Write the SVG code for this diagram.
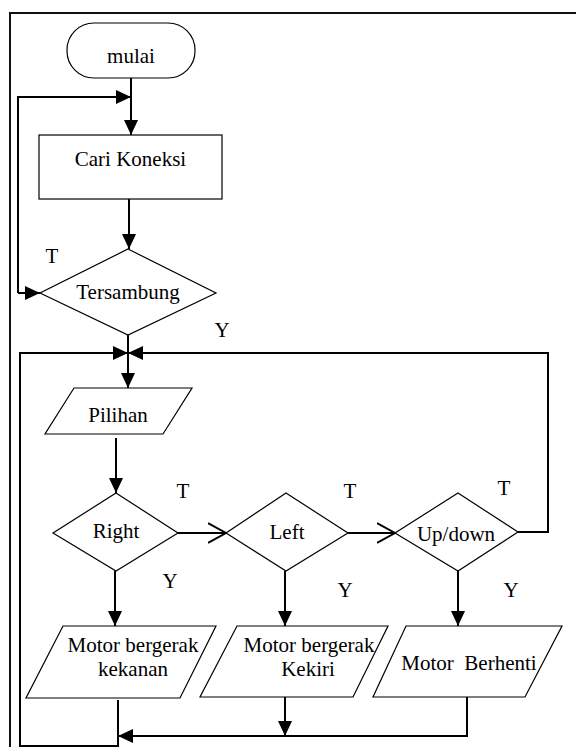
<svg xmlns="http://www.w3.org/2000/svg" width="576" height="747" viewBox="0 0 576 747">
<style>
.shape{fill:#fff;stroke:#000;stroke-width:1.2}
.conn{fill:none;stroke:#000;stroke-width:2}
.frame{fill:none;stroke:#111;stroke-width:2}
text{font-family:"Liberation Serif","Times New Roman",serif;font-size:21px;fill:#000;text-anchor:middle}
</style>
<defs>
<marker id="arr" markerUnits="userSpaceOnUse" markerWidth="15" markerHeight="14" refX="15" refY="7" orient="auto">
<path d="M0,0 L15,7 L0,14 z" fill="#000"/>
</marker>
<marker id="open" markerUnits="userSpaceOnUse" markerWidth="20" markerHeight="22" refX="18" refY="11" orient="auto">
<path d="M0,1 L18,11 L0,21" fill="none" stroke="#000" stroke-width="2"/>
</marker>
</defs>
<rect width="576" height="747" fill="#fff"/>
<g id="frame">
<path class="frame" d="M10,747 L10,13 L576,13"/>
</g>
<g id="connectors">
<line class="conn" x1="131" y1="78" x2="131" y2="135" marker-end="url(#arr)"/>
<path class="conn" d="M18,293 L18,97 L131,97" marker-end="url(#arr)"/>
<line class="conn" x1="18" y1="293" x2="40" y2="293" marker-end="url(#arr)"/>
<line class="conn" x1="129" y1="199" x2="129" y2="249" marker-end="url(#arr)"/>
<line class="conn" x1="128" y1="335" x2="128" y2="388" marker-end="url(#arr)"/>
<path class="conn" d="M518,532 L548,532 L548,353 L128,353" marker-end="url(#arr)"/>
<path class="conn" d="M118,700 L118,746 L20,746 L20,353 L128,353" marker-end="url(#arr)"/>
<line class="conn" x1="116" y1="438" x2="116" y2="493" marker-end="url(#arr)"/>
<line class="conn" x1="178" y1="533" x2="226" y2="533" marker-end="url(#open)"/>
<line class="conn" x1="348" y1="533" x2="395" y2="533" marker-end="url(#open)"/>
<line class="conn" x1="115" y1="571" x2="115" y2="626" marker-end="url(#arr)"/>
<line class="conn" x1="285" y1="571" x2="285" y2="626" marker-end="url(#arr)"/>
<line class="conn" x1="458" y1="571" x2="458" y2="626" marker-end="url(#arr)"/>
<line class="conn" x1="285" y1="697" x2="285" y2="736" marker-end="url(#arr)"/>
<path class="conn" d="M467,697 L467,736 L118,736" marker-end="url(#arr)"/>
</g>
<g id="mulai">
<rect class="shape" x="67" y="23" width="128" height="55" rx="27" ry="27"/>
<text x="131" y="63">mulai</text>
</g>
<g id="cari-koneksi">
<rect class="shape" x="39" y="135" width="183" height="64"/>
<text x="130.5" y="166">Cari Koneksi</text>
</g>
<g id="tersambung">
<polygon class="shape" points="128,249 216,293 128,335 40,293"/>
<text x="128" y="299">Tersambung</text>
</g>
<g id="pilihan">
<polygon class="shape" points="74,388 192,388 163,434 45,434"/>
<text x="118" y="422">Pilihan</text>
</g>
<g id="right">
<polygon class="shape" points="116,493 178,533 116,571 53,533"/>
<text x="116" y="538">Right</text>
</g>
<g id="left">
<polygon class="shape" points="286,493 348,533 286,571 226,533"/>
<text x="287" y="539">Left</text>
</g>
<g id="updown">
<polygon class="shape" points="458,493 518,532 458,571 395,533"/>
<text x="456" y="541">Up/down</text>
</g>
<g id="kekanan">
<polygon class="shape" points="63,626 216,626 180,698 26,698"/>
<text x="133" y="652">Motor bergerak</text>
<text x="133" y="676">kekanan</text>
</g>
<g id="kekiri">
<polygon class="shape" points="237,626 388,626 353,697 200,697"/>
<text x="309" y="652">Motor bergerak</text>
<text x="308" y="676">Kekiri</text>
</g>
<g id="berhenti">
<polygon class="shape" points="406,626 562,626 525,697 373,697"/>
<text x="469" y="670" xml:space="preserve">Motor  Berhenti</text>
</g>
<g id="labels">
<text x="52" y="263">T</text>
<text x="222" y="337">Y</text>
<text x="183" y="498">T</text>
<text x="350" y="498">T</text>
<text x="504" y="495">T</text>
<text x="170" y="588">Y</text>
<text x="345" y="597">Y</text>
<text x="511" y="597">Y</text>
</g>
</svg>
